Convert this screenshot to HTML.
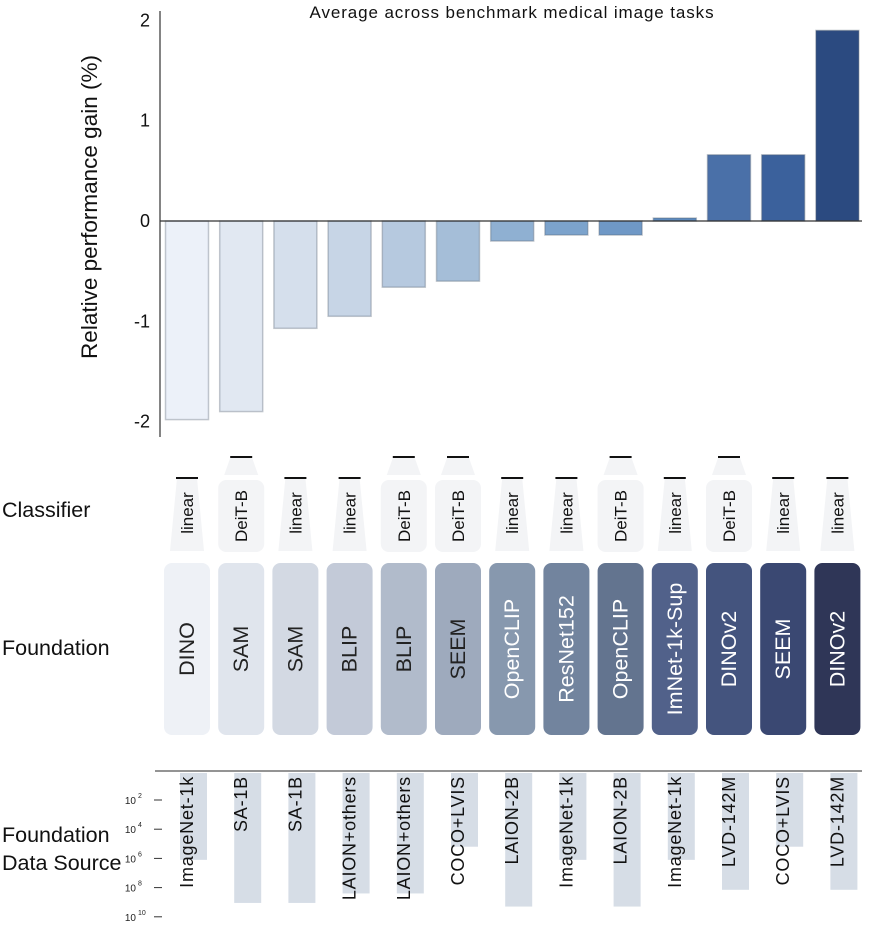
<!DOCTYPE html>
<html><head><meta charset="utf-8"><style>
body{margin:0;background:#fff;}
svg{display:block;font-family:"Liberation Sans",sans-serif;}
</style></head><body>
<svg id="fig" width="879" height="946" viewBox="0 0 879 946" xmlns="http://www.w3.org/2000/svg">
<text x="512" y="18" font-size="17" letter-spacing="0.9" text-anchor="middle" fill="#111">Average across benchmark medical image tasks</text>
<text transform="translate(97,207) rotate(-90)" font-size="22.5" text-anchor="middle" fill="#111">Relative performance gain (%)</text>
<text x="2" y="517" font-size="21.5" fill="#111">Classifier</text>
<text x="2" y="655" font-size="21.5" fill="#111">Foundation</text>
<text x="2" y="842" font-size="21.5" fill="#111">Foundation</text>
<text x="2" y="870" font-size="21.5" fill="#111">Data Source</text>
<g id="g"></g>
</svg>
<script>
const gains=[-1.98,-1.90,-1.07,-0.95,-0.66,-0.60,-0.20,-0.14,-0.14,0.03,0.66,0.66,1.90];
const classifiers=["linear","DeiT-B","linear","linear","DeiT-B","DeiT-B","linear","linear","DeiT-B","linear","DeiT-B","linear","linear"];
const foundations=["DINO","SAM","SAM","BLIP","BLIP","SEEM","OpenCLIP","ResNet152","OpenCLIP","ImNet-1k-Sup","DINOv2","SEEM","DINOv2"];
const sources=["ImageNet-1k","SA-1B","SA-1B","LAION+others","LAION+others","COCO+LVIS","LAION-2B","ImageNet-1k","LAION-2B","ImageNet-1k","LVD-142M","COCO+LVIS","LVD-142M"];
const sourceLog10=[6.1,9.05,9.05,8.4,8.4,5.2,9.3,6.1,9.3,6.1,8.15,5.2,8.15];
const yTicks=[2,1,0,-1,-2];
const logTicks=[2,4,6,8,10];
const barColors=["#ecf1f9","#e1e8f2","#d5dfec","#c7d5e6","#b6c9df","#a5bed8","#8fb0d2","#7ca3cc","#6f98c6","#5d8bbf","#4a70a8","#3b619c","#2b4a80"];
const fColors=["#eef1f6","#e0e5ed","#d3d9e3","#c3cad8","#b1bbcb","#9eaabd","#8798ae","#72849e","#63748f","#51618a","#44547e","#3a4872","#2f3657"];
const NS="http://www.w3.org/2000/svg",g=document.getElementById('g');
function el(t,a,txt){const e=document.createElementNS(NS,t);for(const k in a)e.setAttribute(k,a[k]);if(txt!==undefined)e.textContent=txt;g.appendChild(e);return e;}
const y=v=>221-v*100.3, cx=i=>187+i*54.2, ly=v=>800+(v-2)*14.6;
let e=el('line',{x1:160,x2:160,y1:11,y2:437,stroke:'#333','stroke-width':1.2});


yTicks.forEach(t=>{const tx=el('text',{x:150,y:y(t)+6,'font-size':18,'text-anchor':'end',fill:'#111'},String(t));

});
gains.forEach((v,i)=>{const top=Math.min(y(v),y(0)),h=Math.abs(y(v)-y(0));
const r=el('rect',{x:cx(i)-21.5,y:top,width:43,height:Math.max(h,1),fill:barColors[i],stroke:'rgba(90,100,115,0.35)','stroke-width':1.5});

});
e=el('line',{x1:160,x2:862,y1:y(0),y2:y(0),stroke:'#333','stroke-width':1.2});


classifiers.forEach((c,i)=>{const x=cx(i);let t;
if(c==="linear"){const p=el('polygon',{points:`${x-10},478 ${x+10},478 ${x+17},551 ${x-17},551`,fill:'#f3f4f6'});


const l=el('line',{x1:x-11,x2:x+11,y1:478,y2:478,stroke:'#111','stroke-width':2});


t=el('text',{transform:`translate(${x+6},513) rotate(-90)`,'font-size':17,'text-anchor':'middle',fill:'#111'},c);}
else{const p=el('polygon',{points:`${x-11},458 ${x+11},458 ${x+17},475 ${x-17},475`,fill:'#f3f4f6'});


const r=el('rect',{x:x-23,y:480,width:46,height:72,rx:8,fill:'#f3f4f6'});


const l=el('line',{x1:x-11,x2:x+11,y1:457,y2:457,stroke:'#111','stroke-width':2});


t=el('text',{transform:`translate(${x+6},516) rotate(-90)`,'font-size':17,'text-anchor':'middle',fill:'#111'},c);}

});
foundations.forEach((f,i)=>{const x=cx(i);
const r=el('rect',{x:x-23,y:563,width:46,height:172,rx:8,fill:fColors[i]});


const t=el('text',{transform:`translate(${x+7},649) rotate(-90)`,'font-size':21.5,'text-anchor':'middle',fill:i>=6?'#fff':'#222'},f);

});
e=el('line',{x1:155,x2:862,y1:771,y2:771,stroke:'#555','stroke-width':1.2});


logTicks.forEach(t=>{const l=el('line',{x1:154,x2:162,y1:ly(t),y2:ly(t),stroke:'#333','stroke-width':1});


const tx=el('text',{x:136,y:ly(t)+4,'font-size':10,'text-anchor':'end',fill:'#222'},'10');


const sp=el('text',{x:138,y:ly(t)-2,'font-size':7,fill:'#222'},String(t));

});
sources.forEach((s,i)=>{const x=cx(i);
const r=el('rect',{x:x-7,y:773,width:27,height:ly(sourceLog10[i])-773,fill:'#d6dde6'});


const t=el('text',{transform:`translate(${x+6},776) rotate(-90)`,'font-size':18,'letter-spacing':0.8,'text-anchor':'end',fill:'#111'},s);

});
</script>
</body></html>
